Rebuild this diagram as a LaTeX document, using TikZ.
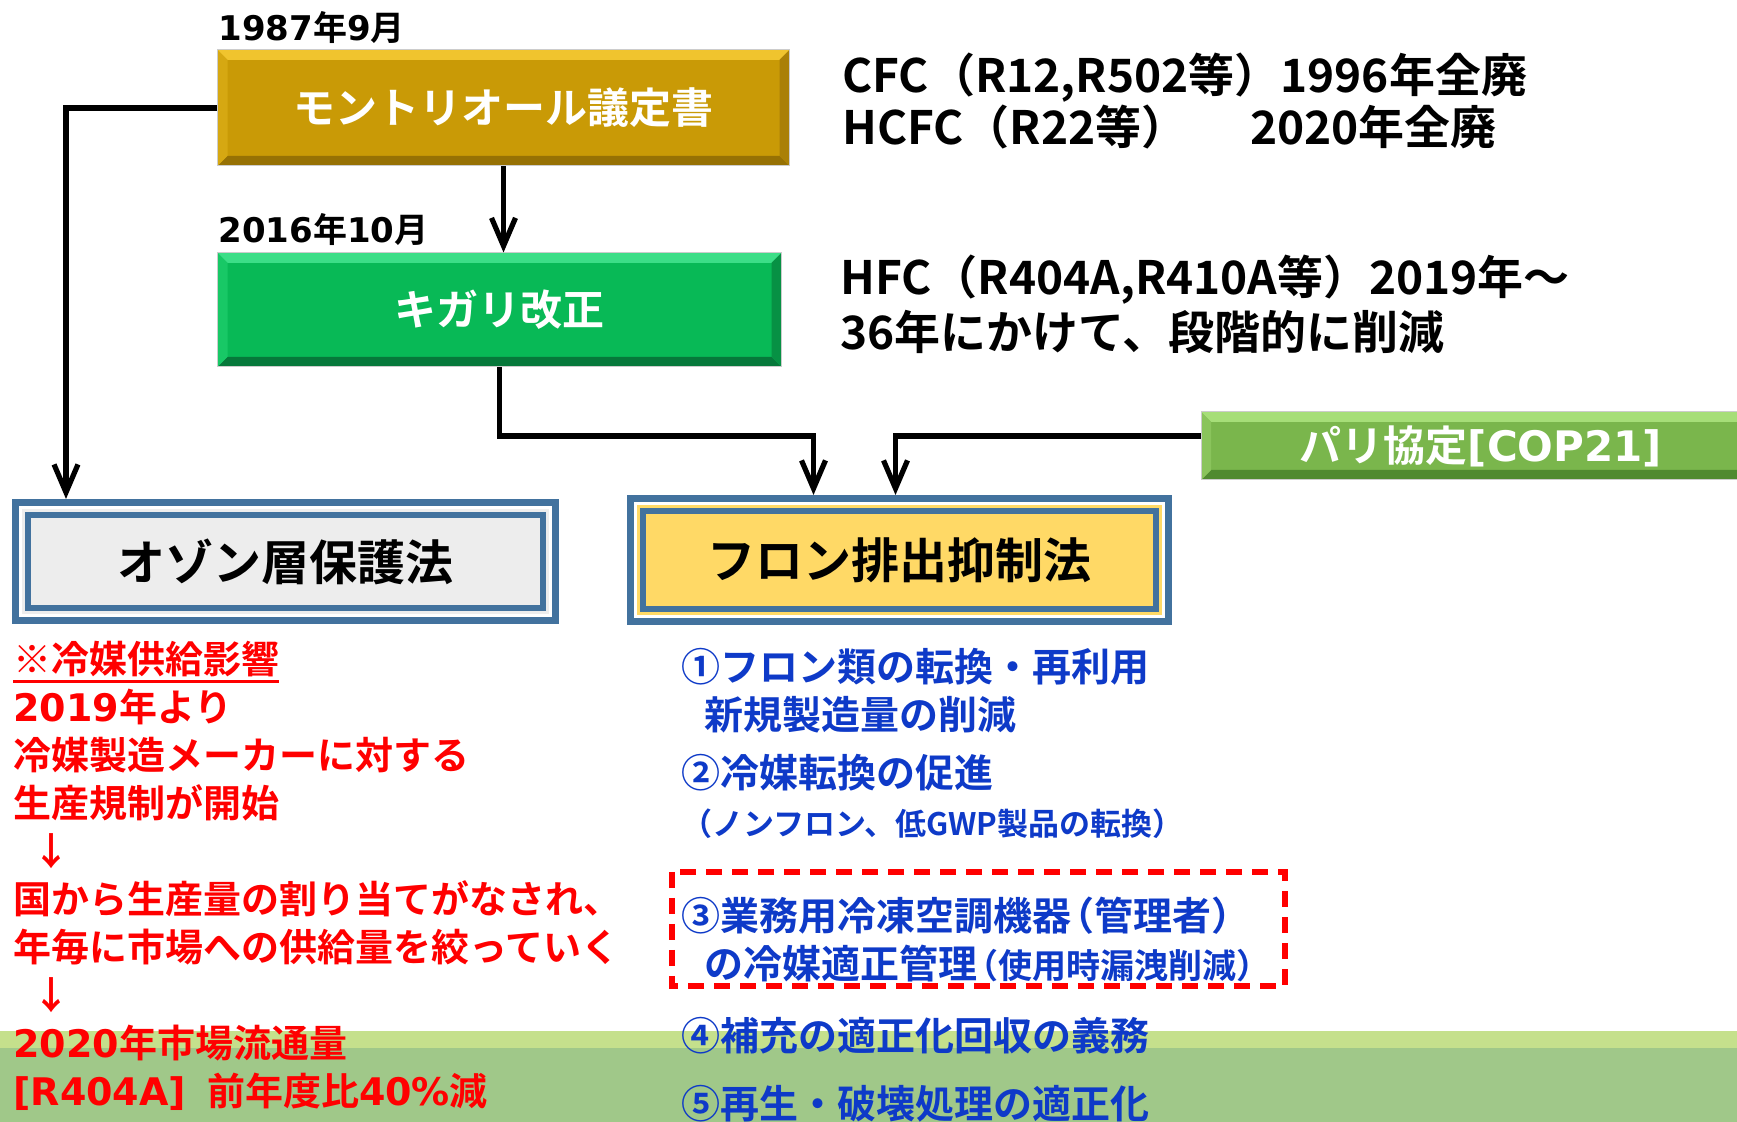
\documentclass[tikz,border=0pt]{standalone}
\usepackage{fontspec}
\setmainfont{Noto Sans CJK JP}[BoldFont={* Bold}]
\newfontfamily\latfont{DejaVu Sans}
\usetikzlibrary{positioning,arrows.meta}

\definecolor{goldface}{RGB}{201,154,6}
\definecolor{goldtop}{RGB}{240,196,46}
\definecolor{goldbot}{RGB}{150,113,4}
\definecolor{goldleft}{RGB}{214,168,18}
\definecolor{goldright}{RGB}{170,128,6}
\definecolor{kgface}{RGB}{8,185,86}
\definecolor{kgtop}{RGB}{60,222,135}
\definecolor{kgbot}{RGB}{6,120,58}
\definecolor{kgleft}{RGB}{24,200,102}
\definecolor{kgright}{RGB}{7,145,68}
\definecolor{pfface}{RGB}{122,182,76}
\definecolor{pftop}{RGB}{166,222,120}
\definecolor{pfbot}{RGB}{80,138,48}
\definecolor{pfleft}{RGB}{138,196,92}
\definecolor{pfright}{RGB}{96,156,58}
\definecolor{lawblue}{RGB}{66,114,158}
\definecolor{ozonegrey}{RGB}{237,237,237}
\definecolor{freonyellow}{RGB}{255,217,102}
\definecolor{inkblue}{RGB}{14,58,200}
\definecolor{bandlight}{RGB}{197,224,140}
\definecolor{banddark}{RGB}{160,200,137}

\newcommand{\lat}[1]{{\latfont #1}}
\newcommand{\redunder}[1]{{\setbox0\hbox{#1}\rlap{\raisebox{-4.5pt}{\rule{\wd0}{1.4pt}}}\box0}}

\tikzset{
  bevelbox/.style n args={5}{fill=#1, draw=black!20, line width=.5pt, text=white, inner sep=0pt,
    path picture={
      \fill[#2] (path picture bounding box.north west) -- (path picture bounding box.north east)
        -- ([shift={(-5pt,-5pt)}]path picture bounding box.north east) -- ([shift={(5pt,-5pt)}]path picture bounding box.north west) -- cycle;
      \fill[#3] (path picture bounding box.south west) -- (path picture bounding box.south east)
        -- ([shift={(-5pt,5pt)}]path picture bounding box.south east) -- ([shift={(5pt,5pt)}]path picture bounding box.south west) -- cycle;
      \fill[#4] (path picture bounding box.north west) -- ([shift={(5pt,-5pt)}]path picture bounding box.north west)
        -- ([shift={(5pt,5pt)}]path picture bounding box.south west) -- (path picture bounding box.south west) -- cycle;
      \fill[#5] (path picture bounding box.north east) -- ([shift={(-5pt,-5pt)}]path picture bounding box.north east)
        -- ([shift={(-5pt,5pt)}]path picture bounding box.south east) -- (path picture bounding box.south east) -- cycle;
    }},
  lawbox/.style={draw=lawblue, line width=3.5pt, fill=white, inner sep=0pt,
    font=\bfseries\fontsize{24pt}{24pt}\selectfont,
    path picture={
      \fill[#1] ([shift={(3.25pt,-3.25pt)}]path picture bounding box.north west) rectangle ([shift={(-3.25pt,3.25pt)}]path picture bounding box.south east);
      \draw[lawblue, line width=3pt] ([shift={(6.25pt,-6.25pt)}]path picture bounding box.north west) rectangle ([shift={(-6.25pt,6.25pt)}]path picture bounding box.south east);
    }},
  boxfont/.style={font=\bfseries\fontsize{21pt}{21pt}\selectfont},
  datefont/.style={anchor=west, inner sep=0pt, font=\bfseries\fontsize{17pt}{17pt}\selectfont},
  notes/.style={anchor=west, align=left, inner sep=0pt, font=\bfseries\fontsize{23pt}{26pt}\selectfont},
  redtext/.style={anchor=west, align=left, inner sep=0pt, text=red, font=\bfseries\fontsize{19pt}{24pt}\selectfont},
  bluetext/.style={anchor=west, align=left, inner sep=0pt, text=inkblue, font=\bfseries\fontsize{19.5pt}{24pt}\selectfont},
  flow/.style={-{Straight Barb[length=14pt,width=12pt]}, line width=2.6pt},
}

\begin{document}
\begin{tikzpicture}[x = .5pt, y = -.5pt]
\path[use as bounding box, fill=white] (0,0) rectangle (1737,1122);
\clip (0,0) rectangle (1737,1122);
\fill[bandlight] (0,1031) rectangle (1737,1048);
\fill[banddark] (0,1048) rectangle (1737,1122);

\node[datefont] (d1987) at (218,28) {\lat{1987}年\lat{9}月};
\node[datefont] (d2016) at (218,230) {\lat{2016}年\lat{10}月};

\node[bevelbox={goldface}{goldtop}{goldbot}{goldleft}{goldright}, boxfont, minimum width=286pt, minimum height=58pt] (mont) at (503.5,108) {モントリオール議定書};
\node[bevelbox={kgface}{kgtop}{kgbot}{kgleft}{kgright}, boxfont, minimum width=282pt, minimum height=57pt] (kigali) at (499.5,310) {キガリ改正};
\node[bevelbox={pfface}{pftop}{pfbot}{pfleft}{pfright}, boxfont, minimum width=280pt, minimum height=34pt] (paris) at (1481,446) {パリ協定\lat{[COP21]}};

\node[lawbox=ozonegrey, minimum width=270pt, minimum height=59pt] (ozone) at (285.5,561.5) {オゾン層保護法};
\node[lawbox=freonyellow, minimum width=269pt, minimum height=61.5pt] (freon) at (899.5,560) {フロン排出抑制法};

\node[notes] (cfc) at (842,101) {CFC（R12,R502等）1996年全廃\\\makebox[204pt][l]{HCFC（R22等）}2020年全廃};
\node[notes, font=\bfseries\fontsize{23pt}{27.5pt}\selectfont] (hfc) at (840,304) {HFC（R404A,R410A等）2019年～\\36年にかけて、段階的に削減};

\node[redtext] (supply) at (13,876) {\redunder{※冷媒供給影響}\\\lat{2019}年より\\冷媒製造メーカーに対する\\生産規制が開始\\\hspace{.5em}↓\\国から生産量の割り当てがなされ、\\年毎に市場への供給量を絞っていく\\\hspace{.5em}↓\\\lat{2020}年市場流通量\\\lat{[R404A]}\hspace{.55em}前年度比\lat{40\%}減};

\node[bluetext] (item1) at (681,691) {①フロン類の転換・再利用\\\hspace{.6em}新規製造量の削減};
\node[bluetext] (item2) at (681,796) {②冷媒転換の促進\\{\fontsize{15.5pt}{24pt}\selectfont （ノンフロン、低GWP製品の転換）}};
\node[bluetext] (item3) at (681,940) {③業務用冷凍空調機器\kern-.4em（管理者）\\\hspace{.6em}の冷媒適正管理{\fontsize{17pt}{24pt}\selectfont\kern-.4em（使用時漏洩削減）}};
\node[bluetext] (item4) at (681,1036) {④補充の適正化回収の義務};
\node[bluetext] (item5) at (681,1104) {⑤再生・破壊処理の適正化};
\draw[red, line width=3pt, dash pattern=on 8pt off 5pt] (672,872) rectangle (1285,986);

\coordinate (ozin) at ([xshift=27pt]ozone.north west);
\coordinate (inL) at ([xshift=-43pt]freon.north);
\coordinate (inR) at ([xshift=-2pt]freon.north);
\coordinate (bus) at ([yshift=5pt]paris.west);
\draw[flow] (mont.west) -| (ozin);
\draw[flow] (mont.south) -- (mont.south |- kigali.north);
\draw[flow] (kigali.south) |- (inL |- bus) -- (inL);
\draw[flow] (bus) -| (inR);
\end{tikzpicture}
\end{document}
